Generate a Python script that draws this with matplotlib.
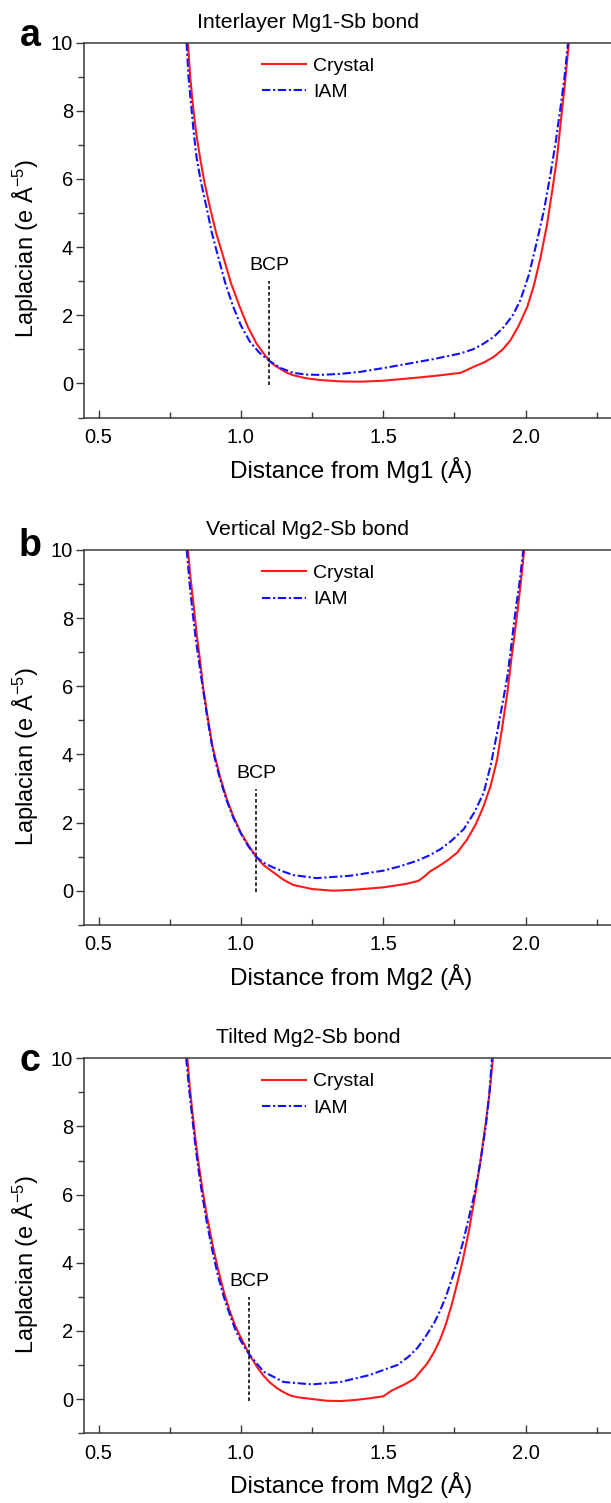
import matplotlib
matplotlib.use("Agg")
import matplotlib.pyplot as plt

plt.rcParams['font.family'] = ['Liberation Sans', 'DejaVu Sans']
plt.rcParams['mathtext.fontset'] = 'custom'
plt.rcParams['mathtext.rm'] = 'Liberation Sans'
plt.rcParams['mathtext.it'] = 'Liberation Sans:italic'
plt.rcParams['mathtext.bf'] = 'Liberation Sans:bold'

# ---------------- data ----------------
panel_letters = ["a", "b", "c"]
panel_titles = ["Interlayer Mg1-Sb bond", "Vertical Mg2-Sb bond", "Tilted Mg2-Sb bond"]
x_labels = ["Distance from Mg1 (Å)", "Distance from Mg2 (Å)", "Distance from Mg2 (Å)"]
series_names = ["Crystal", "IAM"]
bcp_positions = [1.10, 1.053, 1.03]

a_crystal_x = [0.814, 0.822, 0.832, 0.843, 0.856, 0.872, 0.891, 0.913, 0.938, 0.965, 0.996, 1.025,
               1.055, 1.08, 1.10, 1.12, 1.14, 1.16, 1.184, 1.23, 1.278, 1.35, 1.419, 1.50, 1.595,
               1.68, 1.771, 1.79, 1.818, 1.855, 1.888, 1.92, 1.947, 1.975, 2.006, 2.03, 2.053,
               2.075, 2.094, 2.11, 2.123, 2.138, 2.152]
a_crystal_y = [10, 9.0, 8.12, 7.35, 6.65, 5.9, 5.18, 4.42, 3.72, 2.95, 2.25, 1.65,
               1.17, 0.88, 0.66, 0.52, 0.42, 0.32, 0.24, 0.15, 0.10, 0.06, 0.05, 0.08, 0.15,
               0.22, 0.31, 0.38, 0.49, 0.62, 0.78, 1.0, 1.27, 1.68, 2.25, 2.9, 3.72,
               4.65, 5.68, 6.6, 7.63, 8.8, 10]
a_iam_x = [0.809, 0.816, 0.825, 0.834, 0.844, 0.86, 0.879, 0.898, 0.920, 0.945, 0.973, 1.0,
           1.032, 1.065, 1.10, 1.14, 1.184, 1.23, 1.278, 1.35, 1.419, 1.50, 1.595, 1.68,
           1.771, 1.815, 1.853, 1.89, 1.924, 1.955, 1.982, 2.012, 2.041, 2.065, 2.088, 2.106,
           2.123, 2.137, 2.149]
a_iam_y = [10, 9.0, 8.2, 7.4, 6.65, 5.9, 5.18, 4.42, 3.72, 2.95, 2.25, 1.7,
           1.22, 0.9, 0.66, 0.45, 0.31, 0.26, 0.25, 0.28, 0.34, 0.45, 0.59, 0.72,
           0.88, 1.0, 1.17, 1.38, 1.66, 2.0, 2.45, 3.2, 4.21, 5.1, 6.17, 7.1,
           8.12, 9.0, 10]

b_crystal_x = [0.814, 0.824, 0.835, 0.845, 0.856, 0.867, 0.879, 0.89, 0.90, 0.913, 0.926, 0.95, 0.973,
               1.00, 1.020, 1.053, 1.08, 1.114, 1.15, 1.184, 1.25, 1.325, 1.40, 1.501, 1.58, 1.624,
               1.645, 1.665, 1.695, 1.724, 1.76, 1.795, 1.825, 1.853, 1.878, 1.900, 1.918, 1.936,
               1.95, 1.965, 1.98, 1.995]
b_crystal_y = [10, 9.1, 8.3, 7.5, 6.8, 6.0, 5.32, 4.75, 4.25, 3.8, 3.37, 2.7, 2.19,
               1.7, 1.42, 1.0, 0.75, 0.54, 0.32, 0.17, 0.05, 0.0, 0.03, 0.10, 0.20, 0.29,
               0.42, 0.57, 0.72, 0.88, 1.12, 1.51, 1.95, 2.49, 3.1, 3.85, 4.8, 5.81,
               6.8, 7.76, 8.8, 10]
b_iam_x = [0.810, 0.82, 0.83, 0.842, 0.855, 0.867, 0.879, 0.89, 0.90, 0.913, 0.926, 0.95, 0.973,
           1.00, 1.025, 1.053, 1.08, 1.114, 1.15, 1.184, 1.266, 1.384, 1.501, 1.56, 1.619, 1.66,
           1.701, 1.74, 1.783, 1.82, 1.853, 1.878, 1.900, 1.918, 1.936, 1.95, 1.965, 1.978, 1.992]
b_iam_y = [10, 9.0, 8.2, 7.35, 6.6, 5.9, 5.25, 4.68, 4.18, 3.72, 3.3, 2.65, 2.15,
           1.68, 1.32, 1.0, 0.82, 0.68, 0.56, 0.46, 0.37, 0.44, 0.59, 0.72, 0.88, 1.03,
           1.22, 1.47, 1.81, 2.3, 2.88, 3.7, 4.64, 5.45, 6.29, 7.2, 8.24, 9.0, 10]

c_crystal_x = [0.812, 0.82, 0.83, 0.84, 0.85, 0.865, 0.88, 0.90, 0.92, 0.94, 0.96, 0.98, 1.0, 1.03,
               1.06, 1.08, 1.10, 1.125, 1.15, 1.175, 1.2, 1.25, 1.3, 1.35, 1.4, 1.45, 1.5, 1.53,
               1.58, 1.61, 1.63, 1.655, 1.68, 1.70, 1.72, 1.74, 1.76, 1.78, 1.80, 1.82, 1.84,
               1.86, 1.875, 1.885]
c_crystal_y = [10, 9.2, 8.4, 7.65, 7.0, 6.15, 5.4, 4.55, 3.8, 3.15, 2.6, 2.15, 1.8, 1.3,
               0.9, 0.68, 0.5, 0.33, 0.2, 0.1, 0.05, 0.0, -0.05, -0.06, -0.03, 0.02, 0.08, 0.25,
               0.45, 0.6, 0.8, 1.05, 1.4, 1.75, 2.2, 2.75, 3.4, 4.1, 4.9, 5.85, 6.9,
               8.1, 9.1, 10]
c_iam_x = [0.808, 0.818, 0.83, 0.84, 0.85, 0.865, 0.88, 0.90, 0.92, 0.94, 0.96, 0.98, 1.0, 1.03,
           1.08, 1.15, 1.25, 1.35, 1.45, 1.55, 1.59, 1.62, 1.65, 1.68, 1.70, 1.72, 1.74, 1.76,
           1.78, 1.80, 1.82, 1.84, 1.86, 1.872, 1.882]
c_iam_y = [10, 9.1, 8.2, 7.45, 6.8, 5.95, 5.2, 4.35, 3.6, 3.0, 2.5, 2.05, 1.7, 1.3,
           0.8, 0.5, 0.43, 0.5, 0.7, 1.0, 1.25, 1.5, 1.85, 2.25, 2.6, 3.0, 3.5, 4.0,
           4.6, 5.3, 6.0, 6.9, 8.0, 8.9, 10]

crystal_sets = [(a_crystal_x, a_crystal_y), (b_crystal_x, b_crystal_y), (c_crystal_x, c_crystal_y)]
iam_sets = [(a_iam_x, a_iam_y), (b_iam_x, b_iam_y), (c_iam_x, c_iam_y)]

x_ticks = [0.5, 1.0, 1.5, 2.0]
y_ticks = [0, 2, 4, 6, 8, 10]

# ---------------- layout ----------------
W, H = 611, 1503
fig = plt.figure(figsize=(W / 100, H / 100), dpi=100)
left_px = 84.3
tops_px = [42.7, 550.0, 1058.3]
height_px = 374.8
letter_dy = [6.5, 3.5, -2.5]
title_x_px = 308

spine_col = '#3a3a3a'
for i in range(3):
    top = tops_px[i]
    ax = fig.add_axes([left_px / W, 1 - (top + height_px) / H, (W - left_px) / W, height_px / H])
    cx, cy = crystal_sets[i]
    ix, iy = iam_sets[i]
    ax.plot(cx, cy, color='#ff1a1a', lw=1.5, label=series_names[0], solid_joinstyle='round')
    ax.plot(ix, iy, color='#1010ff', lw=1.5, dashes=(4.0, 1.3, 1.0, 1.3), label=series_names[1])
    bx = bcp_positions[i]
    ax.plot([bx, bx], [-0.05, 3.0], color='#222222', lw=1.3, dashes=(2.0, 1.3))
    ax.text(bx, 3.45, "BCP", ha='center', va='center', fontsize=14)

    ax.set_xlim(0.45, 2.3)
    ax.set_ylim(-1, 10)
    ax.set_xticks(x_ticks)
    ax.set_xticklabels([f"{t:.1f}" for t in x_ticks])
    ax.set_xticks([0.75, 1.25, 1.75, 2.25], minor=True)
    ax.set_yticks(y_ticks)
    ax.set_yticks([-1, 1, 3, 5, 7, 9], minor=True)
    ax.tick_params(axis='x', which='both', direction='in', labelsize=14.5, pad=7.5, color=spine_col)
    ax.tick_params(axis='y', which='both', direction='out', labelsize=14.5, pad=2.5, color=spine_col)
    ax.tick_params(which='major', length=5.5, width=1.0)
    ax.tick_params(which='minor', length=4.5, width=1.0)
    ax.spines['right'].set_visible(False)
    for s in ['left', 'top', 'bottom']:
        ax.spines[s].set_color(spine_col)
        ax.spines[s].set_linewidth(1.1)

    ax.set_ylabel("Laplacian (e Å$^{-5}$)", fontsize=17)
    ax.yaxis.set_label_coords(-0.082, 0.45)
    ax.set_xlabel(x_labels[i], fontsize=17.5)
    ax.xaxis.set_label_coords(0.506, -0.105)

    ax.text((title_x_px - left_px) / (W - left_px), 1 + 20.5 / height_px, panel_titles[i],
            transform=ax.transAxes, ha='center', va='center', fontsize=15.3)
    ax.text((30 - left_px) / (W - left_px), 1 + letter_dy[i] / height_px, panel_letters[i],
            transform=ax.transAxes, ha='center', va='center', fontsize=27, fontweight='bold')

    ax.legend(loc='upper left', bbox_to_anchor=((261.7 - left_px) / (W - left_px), 1 - 14.5 / height_px),
              frameon=False, fontsize=14, handlelength=2.3, handletextpad=0.35,
              labelspacing=0.45, borderpad=0, borderaxespad=0)

fig.savefig("out.png", dpi=100)
